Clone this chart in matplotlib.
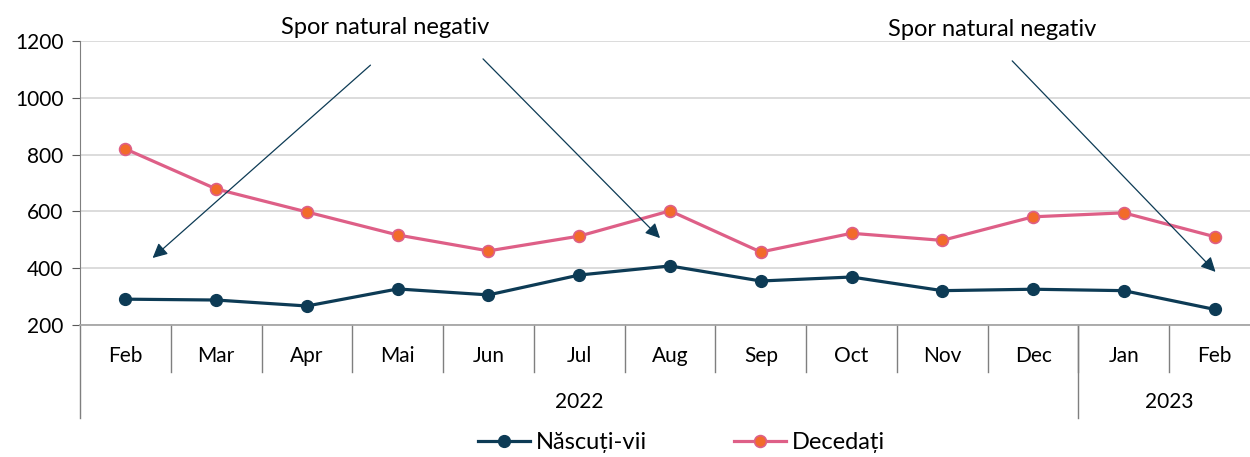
import matplotlib
matplotlib.use("Agg")
import matplotlib.pyplot as plt

plt.rcParams['font.family'] = ['Lato', 'DejaVu Sans']

months = ['Feb', 'Mar', 'Apr', 'Mai', 'Jun', 'Jul', 'Aug', 'Sep', 'Oct', 'Nov', 'Dec', 'Jan', 'Feb']
years = ['2022', '2023']
year_counts = [11, 2]
nascuti = [291, 288, 267, 327, 306, 376, 408, 355, 369, 321, 326, 321, 255]
decedati = [820, 679, 598, 517, 461, 513, 602, 457, 523, 498, 581, 595, 511]
yticks = [200, 400, 600, 800, 1000, 1200]
note = 'Spor natural negativ'

navy = '#0D3B55'
pink = '#DE5F87'
orange = '#F26B2A'

fig = plt.figure(figsize=(12.5, 4.57), dpi=100)
ax = fig.add_axes([0.064, 0.2888, 0.944, 0.6215])

x = list(range(len(months)))
ax.plot(x, nascuti, color=navy, lw=2.3, marker='o', ms=8.5, mfc=navy, mec=navy,
        label='Născuți-vii', zorder=3)
ax.plot(x, decedati, color=pink, lw=2.3, marker='o', ms=8.5, mfc=orange, mec=pink,
        mew=1.2, label='Decedați', zorder=3)

ax.set_xlim(-0.5, len(months) - 0.5)
ax.set_ylim(200, 1200)
ax.set_yticks(yticks)
ax.tick_params(axis='y', labelsize=15, length=6, color='#595959', pad=6)
ax.set_xticks([])
ax.yaxis.grid(True, color='#D9D9D9', lw=1.3)
ax.set_axisbelow(True)
for s in ['top', 'right']:
    ax.spines[s].set_visible(False)
ax.spines['left'].set_color('#7F7F7F')
ax.spines['bottom'].set_color('#A6A6A6')
ax.spines['bottom'].set_linewidth(1.3)

# two-level category axis
tr = ax.get_xaxis_transform()
for i, m in enumerate(months):
    ax.text(i, -0.109, m, transform=tr, ha='center', va='center', fontsize=15)
for i in range(1, len(months)):
    ax.plot([i - 0.5, i - 0.5], [0, -0.1655], transform=tr, color='#7F7F7F', lw=1, clip_on=False)
ax.plot([-0.5, -0.5], [0, -0.327], transform=tr, color='#7F7F7F', lw=1, clip_on=False)
start = 0
for y, n in zip(years, year_counts):
    ax.text(start + (n - 1) / 2, -0.271, y, transform=tr, ha='center', va='center', fontsize=15)
    start += n
    if start < len(months):
        ax.plot([start - 0.5, start - 0.5], [0, -0.327], transform=tr, color='#7F7F7F', lw=1, clip_on=False)

# annotations
arrow = dict(arrowstyle='-|>', mutation_scale=22, lw=0.9, color=navy, shrinkA=0, shrinkB=0)
ax.annotate('', xy=(0.30, 436), xytext=(2.70, 1115), arrowprops=arrow, annotation_clip=False)
ax.annotate('', xy=(5.89, 506), xytext=(3.94, 1137), arrowprops=arrow, annotation_clip=False)
ax.annotate('', xy=(12.01, 387), xytext=(9.77, 1130), arrowprops=arrow, annotation_clip=False)
ax.text(2.86, 1249, note, ha='center', va='center', fontsize=17, clip_on=False)
ax.text(9.55, 1239, note, ha='center', va='center', fontsize=17, clip_on=False)

fig.legend(loc='center', bbox_to_anchor=(0.545, 0.031), ncol=2, frameon=False,
           fontsize=17, columnspacing=3.7, handlelength=2.2, handletextpad=0.25)

fig.savefig('out.png', dpi=100)
